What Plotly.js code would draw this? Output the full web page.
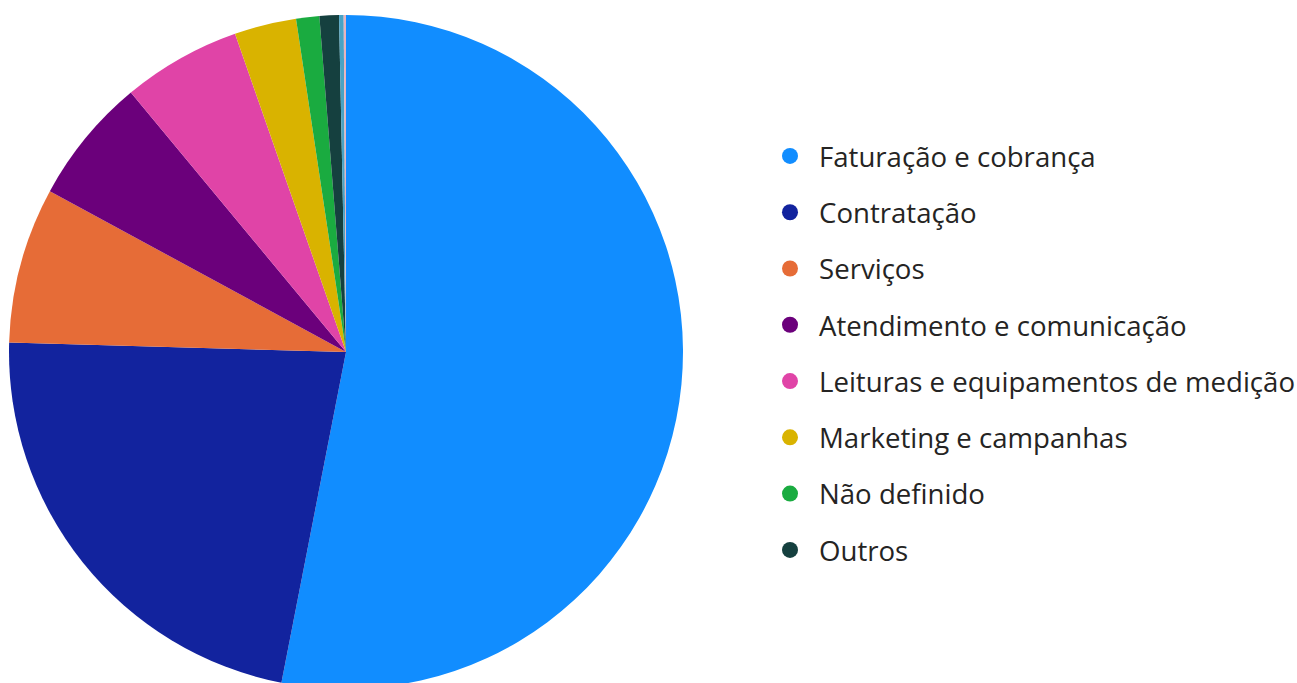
<!DOCTYPE html>
<html>
<head>
<meta charset="utf-8">
<script src="https://cdn.plot.ly/plotly-3.0.1.min.js"></script>
<style>
html, body { margin: 0; padding: 0; overflow: hidden; background: #ffffff; }
#chart { width: 1297px; height: 700px; }
</style>
</head>
<body>
<div id="chart"></div>
<script>
// Data (percent of total, clockwise from 12 o'clock)
const categories = [
  "Faturação e cobrança",
  "Contratação",
  "Serviços",
  "Atendimento e comunicação",
  "Leituras e equipamentos de medição",
  "Marketing e campanhas",
  "Não definido",
  "Outros",
  "Categoria 9",
  "Categoria 10"
];
const values = [53.07, 22.38, 7.47, 6.06, 5.68, 2.97, 1.11, 0.93, 0.22, 0.11];
const colors = ["#118DFF", "#12239E", "#E66C37", "#6B007B", "#E044A7", "#D9B300", "#1AAB40", "#15403F", "#4AA3C4", "#E8B4BE"];
const legendCount = 8; // only the first eight categories appear in the legend

const W = 1297, H = 700;
const cx = 346, cy = 352, r = 337;

const pie = {
  type: "pie",
  labels: categories,
  values: values,
  sort: false,
  direction: "clockwise",
  rotation: 0,
  textinfo: "none",
  hoverinfo: "label+percent",
  marker: { colors: colors, line: { width: 0 } },
  showlegend: false,
  domain: {
    x: [(cx - r) / W, (cx + r) / W],
    y: [1 - (cy + r) / H, 1 - (cy - r) / H]
  }
};

const legendTraces = categories.slice(0, legendCount).map((name, i) => ({
  type: "scatter",
  mode: "markers",
  x: [null],
  y: [null],
  name: name,
  legendgroup: "g" + i,
  marker: { color: colors[i], size: 20, symbol: "circle" },
  hoverinfo: "skip",
  showlegend: true
}));

const layout = {
  width: W,
  height: H,
  margin: { l: 0, r: 0, t: 0, b: 0, autoexpand: false },
  paper_bgcolor: "#ffffff",
  plot_bgcolor: "#ffffff",
  xaxis: { visible: false },
  yaxis: { visible: false },
  showlegend: true,
  legend: {
    x: 761 / W,
    xanchor: "left",
    y: 1 - 353 / H,
    yanchor: "middle",
    traceorder: "grouped",
    tracegroupgap: 17.4,
    itemwidth: 48,
    font: { family: "'Open Sans', Lato, sans-serif", size: 27.6, color: "#252423" },
    bgcolor: "rgba(0,0,0,0)",
    borderwidth: 0
  }
};

Plotly.newPlot("chart", [...legendTraces, pie], layout, { displayModeBar: false, staticPlot: false });
</script>
</body>
</html>
